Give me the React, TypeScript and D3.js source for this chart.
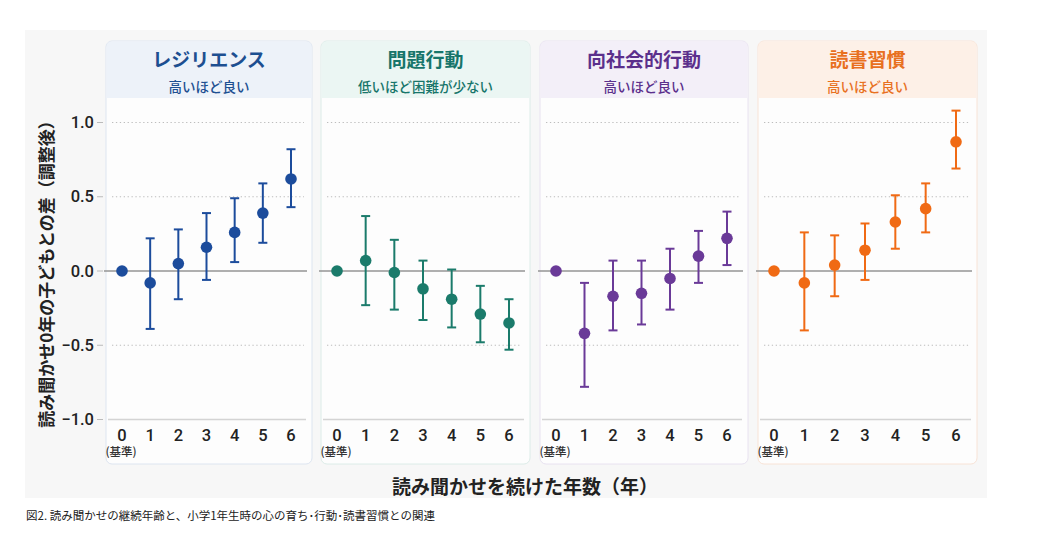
import React from "react";
import * as d3 from "d3";

const years = [0, 1, 2, 3, 4, 5, 6];
const yTicks = [1.0, 0.5, 0.0, -0.5, -1.0];

const panelTitles = ["レジリエンス", "問題行動", "向社会的行動", "読書習慣"];
const panelSubtitles = ["高いほど良い", "低いほど困難が少ない", "高いほど良い", "高いほど良い"];

// point estimates and confidence bounds
const resilienceEst = [0, -0.08, 0.05, 0.16, 0.26, 0.39, 0.62];
const resilienceLo = [0, -0.39, -0.19, -0.06, 0.06, 0.19, 0.43];
const resilienceHi = [0, 0.22, 0.28, 0.39, 0.49, 0.59, 0.82];

const problemEst = [0, 0.07, -0.01, -0.12, -0.19, -0.29, -0.35];
const problemLo = [0, -0.23, -0.26, -0.33, -0.38, -0.48, -0.53];
const problemHi = [0, 0.37, 0.21, 0.07, 0.01, -0.1, -0.19];

const prosocialEst = [0, -0.42, -0.17, -0.15, -0.05, 0.1, 0.22];
const prosocialLo = [0, -0.78, -0.4, -0.36, -0.26, -0.08, 0.04];
const prosocialHi = [0, -0.08, 0.07, 0.07, 0.15, 0.27, 0.4];

const readingEst = [0, -0.08, 0.04, 0.14, 0.33, 0.42, 0.87];
const readingLo = [0, -0.4, -0.17, -0.06, 0.15, 0.26, 0.69];
const readingHi = [0, 0.26, 0.24, 0.32, 0.51, 0.59, 1.08];

const seriesEst = [resilienceEst, problemEst, prosocialEst, readingEst];
const seriesLo = [resilienceLo, problemLo, prosocialLo, readingLo];
const seriesHi = [resilienceHi, problemHi, prosocialHi, readingHi];

const markColors = ["#1c4c9c", "#1b7b6b", "#6a3a98", "#f06a14"];
const titleColors = ["#1d4f91", "#17756a", "#5b2f8c", "#e8701f"];
const headerFills = ["#edf2f9", "#ebf6f3", "#f3eff8", "#fdf0e7"];
const borderColors = ["#dde5f0", "#dcece8", "#e8e2f0", "#f8e3d6"];

const yAxisTitle = "読み聞かせ0年の子どもとの差（調整後）";
const xAxisTitle = "読み聞かせを続けた年数（年）";
const baseLabel = "(基準)";
const caption = "図2. 読み聞かせの継続年齢と、小学1年生時の心の育ち･行動･読書習慣との関連";

// layout
const W = 1062;
const H = 547;
const panelLefts = [106, 321, 540, 758];
const panelRights = [312, 530, 748, 977];
const panelTop = 41;
const headerBottom = 98;
const panelBottom = 464;

const FONT = "Roboto, 'Noto Sans CJK JP', sans-serif";
const JP = "'Noto Sans CJK JP', sans-serif";

export default function App() {
  const y = d3.scaleLinear().domain([-1, 1]).range([419.5, 122.5]);

  return (
    <svg
      width={W}
      height={H}
      style={{ position: "absolute", left: 0, top: 0, background: "#ffffff" }}
    >
      <rect x={25} y={30} width={962} height={468} fill="#f7f7f7" />

      {panelTitles.map((title, i) => {
        const L = panelLefts[i];
        const R = panelRights[i];
        const x = d3.scalePoint<number>().domain(years).range([L + 16, R - 21]);
        const est = seriesEst[i];
        const lo = seriesLo[i];
        const hi = seriesHi[i];
        const c = markColors[i];
        const r = 6;
        const hw = R - L;
        return (
          <g key={title}>
            <rect
              x={L}
              y={panelTop}
              width={hw}
              height={panelBottom - panelTop}
              rx={r}
              fill="#fdfdfd"
              stroke={borderColors[i]}
              strokeWidth={1}
            />
            <path
              d={`M${L + 0.5},${headerBottom} V${panelTop + r} Q${L + 0.5},${panelTop + 0.5} ${L + r},${panelTop + 0.5} H${R - r} Q${R - 0.5},${panelTop + 0.5} ${R - 0.5},${panelTop + r} V${headerBottom} Z`}
              fill={headerFills[i]}
            />
            <text
              x={(L + R) / 2}
              y={67}
              textAnchor="middle"
              fontFamily={JP}
              fontWeight={700}
              fontSize={19}
              fill={titleColors[i]}
            >
              {title}
            </text>
            <text
              x={(L + R) / 2}
              y={91.5}
              textAnchor="middle"
              fontFamily={JP}
              fontWeight={500}
              fontSize={13.5}
              fill={titleColors[i]}
            >
              {panelSubtitles[i]}
            </text>

            {yTicks
              .filter((t) => t !== 0 && t !== -1)
              .map((t) => (
                <line
                  key={t}
                  x1={L + 6}
                  x2={R - 8}
                  y1={y(t)}
                  y2={y(t)}
                  stroke="#bdbdbd"
                  strokeWidth={1.2}
                  strokeDasharray="1.3 2.6"
                />
              ))}
            <line
              x1={L + 2}
              x2={R - 6}
              y1={y(-1)}
              y2={y(-1)}
              stroke="#d4d4d4"
              strokeWidth={1.5}
            />
            <line
              x1={L - 2}
              x2={R - 5}
              y1={y(0)}
              y2={y(0)}
              stroke="#959595"
              strokeWidth={1.6}
            />

            {years.map((yr, j) => {
              const cx = x(yr)!;
              if (yr === 0) {
                return <circle key={yr} cx={cx} cy={y(est[j])} r={5.8} fill={c} />;
              }
              return (
                <g key={yr}>
                  <line x1={cx} x2={cx} y1={y(lo[j])} y2={y(hi[j])} stroke={c} strokeWidth={2} />
                  <line x1={cx - 4.5} x2={cx + 4.5} y1={y(lo[j])} y2={y(lo[j])} stroke={c} strokeWidth={2} />
                  <line x1={cx - 4.5} x2={cx + 4.5} y1={y(hi[j])} y2={y(hi[j])} stroke={c} strokeWidth={2} />
                  <circle cx={cx} cy={y(est[j])} r={5.8} fill={c} />
                </g>
              );
            })}

            {years.map((yr) => (
              <text
                key={yr}
                x={x(yr)!}
                y={441}
                textAnchor="middle"
                fontFamily={FONT}
                fontWeight={500}
                fontSize={16.5}
                fill="#222"
              >
                {yr}
              </text>
            ))}
            <text
              x={x(0)! - 1}
              y={456}
              textAnchor="middle"
              fontFamily={JP}
              fontWeight={500}
              fontSize={11.5}
              fill="#333"
            >
              {baseLabel}
            </text>
          </g>
        );
      })}

      {yTicks.map((t) => (
        <g key={t}>
          <text
            x={94}
            y={y(t) + 5.5}
            textAnchor="end"
            fontFamily={FONT}
            fontWeight={500}
            fontSize={16.5}
            fill="#222"
          >
            {t === 0 ? "0.0" : t < 0 ? "\u2212" + Math.abs(t).toFixed(1) : t.toFixed(1)}
          </text>
          <line x1={97} x2={103} y1={y(t)} y2={y(t)} stroke="#bbb" strokeWidth={1} />
        </g>
      ))}

      <text
        transform={`translate(53,${270}) rotate(-90)`}
        textAnchor="middle"
        fontFamily={JP}
        fontWeight={700}
        fontSize={17}
        fill="#222"
      >
        {yAxisTitle}
      </text>

      <text
        x={525}
        y={494}
        textAnchor="middle"
        fontFamily={JP}
        fontWeight={700}
        fontSize={19}
        fill="#222"
      >
        {xAxisTitle}
      </text>

      <text x={26} y={520} fontFamily={JP} fontSize={11.5} fill="#222">
        {caption}
      </text>
    </svg>
  );
}
